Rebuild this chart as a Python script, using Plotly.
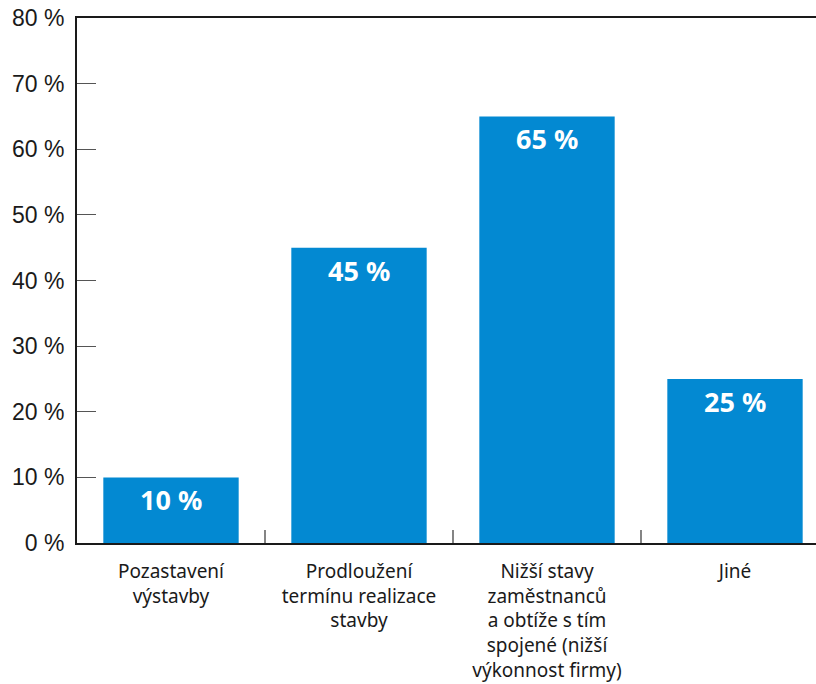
import plotly.graph_objects as go

categories = [
    "Pozastavení<br>výstavby",
    "Prodloužení<br>termínu realizace<br>stavby",
    "Nižší stavy<br>zaměstnanců<br>a obtíže s tím<br>spojené (nižší<br>výkonnost firmy)",
    "Jiné",
]
values = [10, 45, 65, 25]
labels = [f"{v} %" for v in values]
y_ticks = [0, 10, 20, 30, 40, 50, 60, 70, 80]
y_ticktext = [f"{v} %" for v in y_ticks]

BLUE = "#0389D2"

fig = go.Figure()
fig.add_trace(go.Bar(
    x=list(range(len(categories))), y=values,
    marker=dict(color=BLUE, line=dict(width=0)),
    width=0.72,
    hoverinfo="skip",
))

for i, (v, t) in enumerate(zip(values, labels)):
    fig.add_annotation(
        x=i, y=v, text=f"<b>{t}</b>", showarrow=False,
        yanchor="top", yshift=-2,
        font=dict(family="Noto Sans", size=27, color="white"),
    )

fig.update_layout(
    width=816, height=684,
    margin=dict(l=77, r=0, t=18, b=141, autoexpand=False),
    paper_bgcolor="white", plot_bgcolor="white",
    showlegend=False,
)
fig.update_xaxes(
    range=[-0.5, -0.5 + (816 - 77) / 188],
    tickmode="array",
    tickvals=list(range(len(categories))),
    ticktext=categories,
    showgrid=False, zeroline=False, automargin=False,
    showline=True, linecolor="#1a1a1a", linewidth=2, mirror=True,
    ticks="",
    ticklabelstandoff=10,
    tickfont=dict(family="Noto Sans", size=19, color="#1a1a1a"),
)
# boundary ticks
for b in [0.5, 1.5, 2.5]:
    fig.add_shape(type="line", xref="x", yref="paper",
                  x0=b, x1=b, y0=0, y1=13 / 525,
                  line=dict(color="#333", width=1.2))
fig.update_yaxes(
    range=[0, 80], tickmode="array", tickvals=y_ticks, ticktext=y_ticktext,
    showgrid=False, zeroline=False, automargin=False,
    showline=True, linecolor="#1a1a1a", linewidth=2,
    ticks="inside", ticklen=19, tickcolor="#555", tickwidth=1.2,
    tickfont=dict(family="Liberation Sans", size=23, color="#1a1a1a"),
    ticklabelstandoff=6,
)

fig.write_html(
    "out.html",
    config={"displayModeBar": False, "staticPlot": True},
    post_script="document.body.style.margin='0';document.body.style.overflow='hidden';",
)
